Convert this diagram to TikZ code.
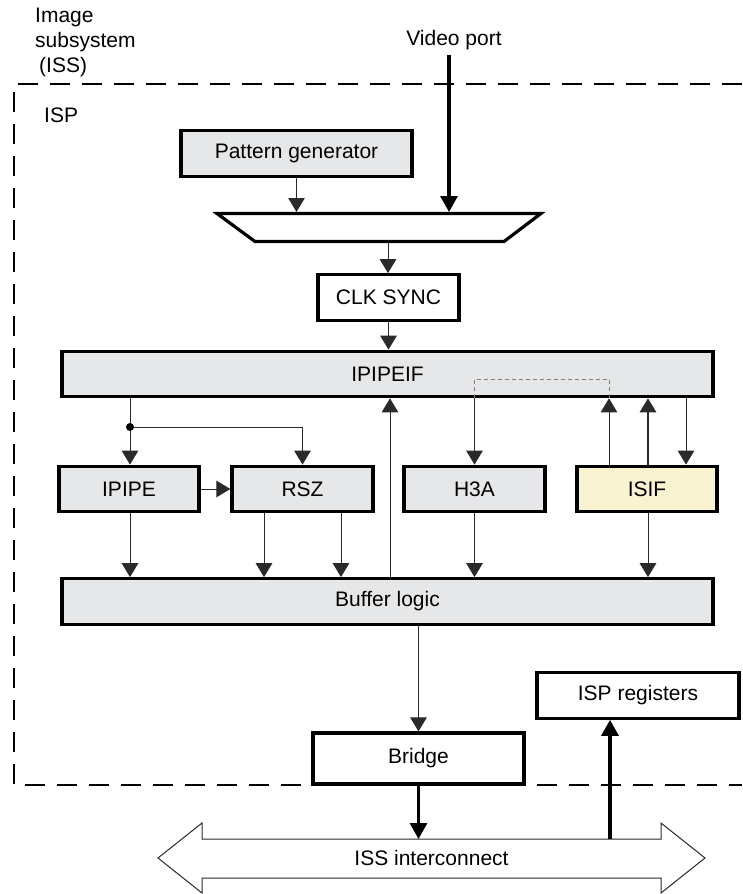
\documentclass[tikz,border=0pt]{standalone}
\usepackage{fontspec}
\setmainfont{Liberation Sans}
\usetikzlibrary{arrows.meta}
\definecolor{boxgray}{HTML}{E6E7E8}
\definecolor{isifyellow}{HTML}{FAF3D2}
\definecolor{linegray}{HTML}{2A2A2A}
\begin{document}
\begin{tikzpicture}[x=1pt,y=-1pt,
  lbl/.style={font=\fontsize{21}{24.5}\selectfont, inner sep=0pt},
  blk/.style={draw=black, line width=3.2pt, fill=white, minimum height=45.5pt, inner sep=0pt, font=\fontsize{21}{24.5}\selectfont},
  gblk/.style={blk, fill=boxgray},
  thinline/.style={draw=linegray, line width=1pt},
  thinarr/.style={thinline, -{Triangle[length=14pt,width=16.5pt]}},
  medarr/.style={draw=linegray, line width=1.6pt, -{Triangle[length=14pt,width=16.5pt]}},
  thickarr/.style={draw=black, line width=3.2pt, -{Triangle[length=16pt,width=17pt]}},
  bound/.style={draw=black, line width=2.4pt, dash pattern=on 20pt off 12pt},
  dashconn/.style={draw=gray, line width=0.9pt, dash pattern=on 4pt off 3pt}
]
\useasboundingbox (0,0) rectangle (742,894);

% ISS / ISP boundary
\draw[bound] (742,84) -- (14,84) -- (14,785) -- (742,785);

% texts
\node[lbl, anchor=base west] (t1) at (35,23) {Image};
\node[lbl, anchor=base west] (t2) at (35,47.5) {subsystem};
\node[lbl, anchor=base west] (t3) at (39,72) {(ISS)};
\node[lbl, anchor=base west] (isp) at (44,122) {ISP};
\node[lbl, anchor=base] (vpl) at (454,45) {Video port};

% blocks
\node[gblk, minimum width=231pt] (pg) at (296.5,153.5) {Pattern generator};
\node[blk, minimum width=141pt] (clk) at (388.5,297.5) {CLK SYNC};
\node[gblk, minimum width=651pt] (ipipeif) at (387.5,374) {IPIPEIF};
\node[gblk, minimum width=140pt] (ipipe) at (129,489) {IPIPE};
\node[gblk, minimum width=141pt] (rsz) at (302.5,489) {RSZ};
\node[gblk, minimum width=141pt] (h3a) at (474.5,489) {H3A};
\node[blk, fill=isifyellow, minimum width=140pt] (isif) at (647,489) {ISIF};
\node[gblk, minimum width=651pt] (buf) at (387.5,601.5) {Buffer logic};
\node[blk, minimum width=211pt, minimum height=51pt] (bridge) at (418.5,758.5) {Bridge};
\node[blk, minimum width=202pt] (ispreg) at (638,695.5) {ISP registers};

% multiplexer
\draw[draw=black, line width=3.2pt, fill=white, line join=miter]
  (217,213.5) -- (541,213.5) -- (504,241.5) -- (255,241.5) -- cycle;
\coordinate (muxtop) at (0,212);
\coordinate (muxbot) at (388,243);
\coordinate (vp) at (449,55);

% column coordinates
\coordinate (jn) at (130,427);
\coordinate (r1) at (264,0);
\coordinate (r2) at (341,0);
\coordinate (cb) at (390,0);
\coordinate (i1) at (609,0);
\coordinate (i2) at (648,0);
\coordinate (i3) at (686,0);

% connectors
\draw[thickarr] (vp) -- (vp |- muxtop);
\draw[thinarr] (pg.south) -- (pg.south |- muxtop);
\draw[thinarr] (muxbot) -- (muxbot |- clk.north);
\draw[thinarr] (clk.south) -- (clk.south |- ipipeif.north);

\draw[thinline] (ipipeif.south -| jn) -- (jn);
\draw[thinarr] (jn) -- (jn |- ipipe.north);
\draw[thinarr] (jn) -| (rsz.north);
\fill[black] (jn) circle (4pt);

\draw[thinarr] (ipipe.east) -- (rsz.west);
\draw[thinarr] (ipipe.south -| jn) -- (buf.north -| jn);
\draw[thinarr] (rsz.south -| r1) -- (buf.north -| r1);
\draw[thinarr] (rsz.south -| r2) -- (buf.north -| r2);
\draw[thinarr] (buf.north -| cb) -- (ipipeif.south -| cb);

\draw[dashconn] (ipipeif.south -| h3a.north) -- ++(0,-19) -| (ipipeif.south -| i1);
\draw[thinarr] (ipipeif.south -| h3a.north) -- (h3a.north);
\draw[thinarr] (h3a.south) -- (h3a.south |- buf.north);
\draw[thinarr] (isif.north -| i1) -- (ipipeif.south -| i1);
\draw[medarr] (isif.north -| i2) -- (ipipeif.south -| i2);
\draw[thinarr] (ipipeif.south -| i3) -- (isif.north -| i3);
\draw[thinarr] (isif.south -| i2) -- (buf.north -| i2);

\draw[thinarr] (buf.south -| bridge.north) -- (bridge.north);

% ISS interconnect
\draw[draw=linegray, line width=1pt, fill=white, line join=miter]
  (158,858) -- (202,823) -- (202,839) -- (661,839) -- (661,823) -- (705,858)
  -- (661,893) -- (661,878) -- (202,878) -- (202,893) -- cycle;
\node[lbl] (iss) at (431.5,858) {ISS interconnect};
\coordinate (isstop) at (431,839);
\coordinate (rg) at (610,839);
\draw[thickarr] (bridge.south) -- (bridge.south |- isstop);
\draw[thickarr] (rg) -- (rg |- ispreg.south);
\end{tikzpicture}
\end{document}
